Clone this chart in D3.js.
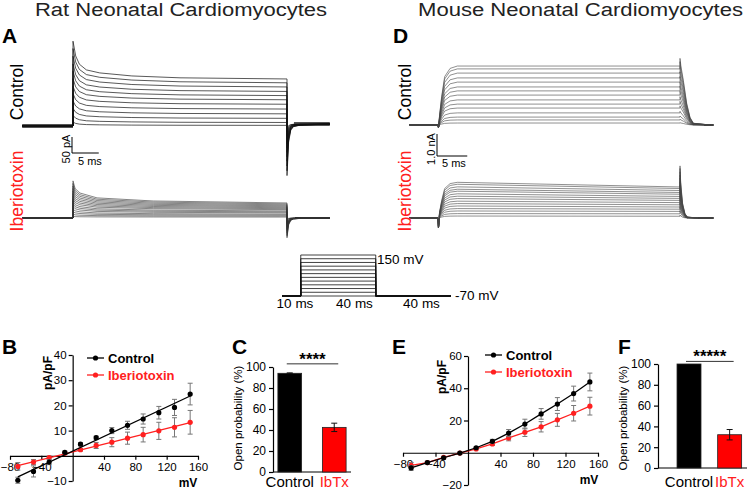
<!DOCTYPE html>
<html>
<head>
<meta charset="utf-8">
<script src="https://d3js.org/d3.v7.min.js"></script>
<style>
body { margin: 0; background: #fff; }
</style>
</head>
<body>
<script>
var font = "'Liberation Sans', Arial, Helvetica, sans-serif";
var red = "#ff2020";

// ---------- data ----------
var stepMV = [-70, -50, -30, -10, 10, 30, 50, 70, 90, 110, 130, 150];

// B: rat I-V (pA/pF), mean and sem
var ratCtrlIV  = [-9.7, -6.2, -2.5, 1.4, 4.6, 7.2, 10.0, 12.1, 14.6, 17.1, 19.2, 24.5];
var ratCtrlSem = [1.2, 2.2, 1.0, 0.5, 0.6, 0.6, 1.2, 1.6, 2.0, 2.5, 3.2, 4.3];
var ratIbtxIV  = [-4.2, -2.5, -0.7, 1.0, 2.4, 4.1, 5.4, 7.0, 8.4, 9.9, 11.3, 13.3];
var ratIbtxSem = [1.5, 1.0, 0.6, 0.4, 0.5, 1.2, 1.8, 2.4, 2.9, 3.4, 3.8, 4.7];

// E: mouse I-V (pA/pF)
var mouseCtrlIV  = [-9.4, -6.1, -3.1, -0.2, 3.1, 7.1, 12.2, 17.8, 24.1, 30.2, 36.7, 43.9];
var mouseCtrlSem = [1.5, 0.8, 0.8, 0.5, 0.5, 1.2, 2.2, 3.0, 3.3, 4.0, 4.6, 5.5];
var mouseIbtxIV  = [-7.8, -6.1, -2.9, -0.2, 2.4, 5.5, 9.2, 12.7, 16.1, 20.4, 24.5, 28.9];
var mouseIbtxSem = [1.8, 0.8, 0.6, 0.5, 0.5, 1.0, 1.8, 2.6, 3.2, 4.0, 4.8, 5.5];

var ivXTicks = [-80, -40, 40, 80, 120, 160];
var ratYTicks = [-10, 10, 20, 30, 40];
var mouseYTicks = [-20, 20, 40, 60];

// C, F: open probability (%)
var barCats = ["Control", "IbTx"];
var ratOpenProb = [94, 42.5];
var ratOpenSem = [0.4, 4];
var mouseOpenProb = [100, 32];
var mouseOpenSem = [0, 5];
var probTicks = [0, 20, 40, 60, 80, 100];

// voltage protocol
var holdMV = -70;
var protoDur = [10, 40, 40]; // ms

// A: rat currents (pA), one value per sweep
var ratCtrlPeak   = [265, 242, 218, 194, 171, 148, 124, 101, 78, 55, 33, 12];
var ratCtrlSteady = [147, 135, 122, 108, 95, 82, 68, 53, 38, 24, 11, 2];
var ratCtrlTail   = [-155, -140, -125, -110, -96, -82, -68, -55, -42, -30, -18, -8];
var ratCtrlPost   = 6;
var ratIbtxPeak   = [116, 108, 100, 92, 84, 76, 68, 60, 52, 44, 36, 28, 20, 12, 5];
var ratIbtxSteady = [47, 44, 41, 38, 35, 32, 29, 26, 22, 19, 16, 12, 9, 6, 3];
var ratIbtxTail   = [-62, -57, -52, -47, -42, -38, -34, -30, -26, -22, -18, -14, -10, -6, -3];
var ratIbtxPost   = 0;
// decay of the onset transient (ms, fraction left)
var ratCtrlDecayT = [0, 0.5, 1.2, 2.5, 5, 11, 20, 40];
var ratCtrlDecayF = [1, 0.61, 0.39, 0.24, 0.16, 0.08, 0.03, 0];
var ratIbtxDecayT = [0, 0.4, 1.3, 4.5, 15, 40];
var ratIbtxDecayF = [1, 0.65, 0.45, 0.23, 0.09, 0];
var ratTailT = [0, 0.3, 0.7, 1.2, 2.5, 8];
var ratTailF = [1, 0.35, 0.12, 0.05, 0.02, 0];

// D: mouse currents (nA), one value per sweep
var mouseCtrlAmp   = [2.68, 2.55, 2.36, 2.14, 1.95, 1.73, 1.55, 1.36, 1.14, 0.95, 0.77, 0.55, 0.36, 0.23, 0.09];
var mouseIbtxStart = [1.64, 1.55, 1.43, 1.32, 1.23, 1.11, 1.0, 0.89, 0.77, 0.66, 0.55, 0.43, 0.32, 0.2, 0.09];
var mouseIbtxEnd   = [1.41, 1.34, 1.25, 1.16, 1.08, 0.98, 0.89, 0.8, 0.7, 0.6, 0.5, 0.4, 0.3, 0.19, 0.08];
var mouseCtrlDip = -0.12, mouseIbtxDip = -0.45;
var actT = [0, 0.25, 0.6, 1.1, 2, 3.2, 40];
var actF = [0, 0.15, 0.48, 0.82, 0.96, 1, 1];
var ctrlDeactT = [0, 0.15, 0.55, 1.1, 1.65, 2.2, 5];
var ctrlDeactF = [1.13, 1.0, 0.76, 0.37, 0.13, 0.03, 0];
var ibtxDeactT = [0, 0.1, 0.4, 0.8, 1.2, 3];
var ibtxDeactF = [1.68, 1.2, 0.5, 0.15, 0.03, 0];

var stepDur = 40;

// ---------- drawing ----------
var svg = d3.select("body").append("svg")
  .attr("width", 749).attr("height", 491)
  .style("font-family", font);

svg.append("rect").attr("width", 749).attr("height", 491).attr("fill", "#fff");

function txt(x, y, s, size, o) {
  o = o || {};
  var t = svg.append("text").attr("x", x).attr("y", y).text(s)
    .attr("font-size", size)
    .attr("font-weight", o.weight || "normal")
    .attr("fill", o.fill || "#000")
    .attr("text-anchor", o.anchor || "start");
  if (o.len) t.attr("textLength", o.len).attr("lengthAdjust", "spacingAndGlyphs");
  return t;
}
function vtxt(x, y, s, size, o) {
  o = o || {};
  return svg.append("text").attr("transform", "translate(" + x + "," + y + ") rotate(-90)")
    .text(s).attr("font-size", size).attr("text-anchor", "middle")
    .attr("font-weight", o.weight || "normal").attr("fill", o.fill || "#000");
}

// titles and panel letters
txt(35, 16, "Rat Neonatal Cardiomyocytes", 18, {fill: "#222", len: 292});
txt(418, 16, "Mouse Neonatal Cardiomyocytes", 18, {fill: "#222", len: 325});
[["A", 2, 43], ["D", 393, 43], ["B", 2, 354], ["C", 232, 354], ["E", 392, 354], ["F", 618, 354]]
  .forEach(function(l) { txt(l[1], l[2], l[0], 21, {weight: "bold"}); });

// ---- traces ----
function drawSweeps(list, tx, ty, color, w) {
  var line = d3.line().x(function(p) { return tx(p[0]); }).y(function(p) { return ty(p[1]); });
  svg.append("g").selectAll("path").data(list).enter().append("path")
    .attr("d", line).attr("fill", "none").attr("stroke", color)
    .attr("stroke-width", w).attr("stroke-linejoin", "round");
}
function band(tx, ty, t0, t1, v, color, w) {
  svg.append("line").attr("x1", tx(t0)).attr("x2", tx(t1)).attr("y1", ty(v)).attr("y2", ty(v))
    .attr("stroke", color).attr("stroke-width", w);
}

function ratSweeps(peak, steady, tail, post, dT, dF) {
  return peak.map(function(p, i) {
    var pts = [[-9.5, 0], [0, 0]];
    dT.forEach(function(t, k) { pts.push([t, steady[i] + (peak[i] - steady[i]) * dF[k]]); });
    ratTailT.forEach(function(t, k) { pts.push([stepDur + t, post + (tail[i] - post) * ratTailF[k]]); });
    pts.push([48, post]);
    return pts;
  });
}

var ratX = d3.scaleLinear().domain([0, stepDur]).range([73, 287]);
var ratCtrlY = d3.scaleLinear().domain([0, 50]).range([126, 110]);
var ratIbtxY = d3.scaleLinear().domain([0, 50]).range([218, 202]);

band(ratX, ratCtrlY, -9.5, 0, 0, "#555", 4);
band(ratX, ratCtrlY, 41.3, 48, ratCtrlPost, "#555", 4);
drawSweeps(ratSweeps(ratCtrlPeak, ratCtrlSteady, ratCtrlTail, ratCtrlPost, ratCtrlDecayT, ratCtrlDecayF),
  ratX, ratCtrlY, "#111", 0.7);
band(ratX, ratIbtxY, -9.5, 0, 0, "#111", 2.2);
band(ratX, ratIbtxY, 41.5, 48, ratIbtxPost, "#111", 2.2);
drawSweeps(ratSweeps(ratIbtxPeak, ratIbtxSteady, ratIbtxTail, ratIbtxPost, ratIbtxDecayT, ratIbtxDecayF),
  ratX, ratIbtxY, "#333", 0.6);

// rat scale bar
var rsb = {x: 72, y: 153};
svg.append("path").attr("fill", "none").attr("stroke", "#000").attr("stroke-width", 1)
  .attr("d", "M" + rsb.x + "," + (rsb.y - (ratCtrlY(0) - ratCtrlY(50))) + "V" + rsb.y +
    "H" + (rsb.x + ratX(5) - ratX(0)));
vtxt(70, 149, "50 pA", 11);
txt(78, 165, "5 ms", 11);

function mouseSweeps(s0, s1, dip, dT, dF) {
  return s0.map(function(a, i) {
    var pts = [[-4.7, 0], [0, 0], [0.08, dip]];
    actT.forEach(function(t, k) {
      if (k > 0) pts.push([t, (s0[i] + (s1[i] - s0[i]) * t / stepDur) * actF[k]]);
    });
    dT.forEach(function(t, k) { pts.push([stepDur + t, s1[i] * dF[k]]); });
    pts.push([45.5, 0]);
    return pts;
  });
}

var mouseX = d3.scaleLinear().domain([0, stepDur]).range([438, 680]);
var mouseCtrlY = d3.scaleLinear().domain([0, 1]).range([125, 103]);
var mouseIbtxY = d3.scaleLinear().domain([0, 1]).range([218, 196]);

band(mouseX, mouseCtrlY, -4.7, 0, 0, "#111", 2);
band(mouseX, mouseCtrlY, 44, 45.5, 0, "#111", 2);
drawSweeps(mouseSweeps(mouseCtrlAmp, mouseCtrlAmp, mouseCtrlDip, ctrlDeactT, ctrlDeactF),
  mouseX, mouseCtrlY, "#444", 0.6);
band(mouseX, mouseIbtxY, -4.7, 0, 0, "#111", 2);
band(mouseX, mouseIbtxY, 43, 45.5, 0, "#111", 2);
drawSweeps(mouseSweeps(mouseIbtxStart, mouseIbtxEnd, mouseIbtxDip, ibtxDeactT, ibtxDeactF),
  mouseX, mouseIbtxY, "#444", 0.6);

var msb = {x: 437, y: 156};
svg.append("path").attr("fill", "none").attr("stroke", "#000").attr("stroke-width", 1)
  .attr("d", "M" + msb.x + "," + (msb.y - (mouseCtrlY(0) - mouseCtrlY(1))) + "V" + msb.y +
    "H" + (msb.x + mouseX(5) - mouseX(0)));
vtxt(435, 149, "1.0 nA", 11);
txt(442, 167, "5 ms", 11);

// condition labels
vtxt(23, 92, "Control", 17.5);
vtxt(23, 191, "Iberiotoxin", 17.5, {fill: red});
vtxt(411, 92, "Control", 17.5);
vtxt(411, 191, "Iberiotoxin", 17.5, {fill: red});

// ---- voltage protocol ----
var tOn = protoDur[0], tOff = protoDur[0] + protoDur[1], tEnd = d3.sum(protoDur);
var px = d3.scaleLinear().domain([0, tEnd]).range([282, 450.75]);
var pv = d3.scaleLinear().domain([holdMV, d3.max(stepMV)]).range([296, 255]);
var pline = d3.line().x(function(p) { return px(p[0]); }).y(function(p) { return pv(p[1]); });
svg.append("g").selectAll("path").data(stepMV).enter().append("path")
  .attr("d", function(v) {
    return pline([[0, holdMV], [tOn, holdMV], [tOn, v], [tOff, v], [tOff, holdMV], [tEnd, holdMV]]);
  })
  .attr("fill", "none").attr("stroke", "#111").attr("stroke-width", 0.8);
txt(377, 264, d3.max(stepMV) + " mV", 13.5);
txt(455, 300, holdMV + " mV", 13.5);
txt(295, 308, protoDur[0] + " ms", 13.5, {anchor: "middle"});
txt(354.5, 308, protoDur[1] + " ms", 13.5, {anchor: "middle"});
txt(421.5, 308, protoDur[2] + " ms", 13.5, {anchor: "middle"});

// ---- I-V plots ----
function fitLine(xs, ys) {
  var mx = d3.mean(xs), my = d3.mean(ys);
  var sxy = d3.sum(xs, function(v, i) { return (v - mx) * (ys[i] - my); });
  var sxx = d3.sum(xs, function(v) { return (v - mx) * (v - mx); });
  var b = sxy / sxx;
  return function(v) { return my + b * (v - mx); };
}

function drawIV(o) {
  var x = d3.scaleLinear().domain([-80, 160]).range(o.xr);
  var y = d3.scaleLinear().domain(o.yd).range(o.yr);
  var g = svg.append("g");
  var xa = g.append("g").attr("transform", "translate(0," + y(0) + ")")
    .call(d3.axisBottom(x).tickValues(ivXTicks).tickSize(4).tickPadding(3).tickSizeOuter(0));
  var ya = g.append("g").attr("transform", "translate(" + x(0) + ",0)")
    .call(d3.axisLeft(y).tickValues(o.yticks).tickSize(4).tickPadding(2).tickSizeOuter(0));
  [xa, ya].forEach(function(a) {
    a.attr("font-family", font).attr("font-size", 11.5);
    a.selectAll("path, line").attr("stroke", "#000").attr("stroke-width", 1.2);
    a.selectAll("text").attr("fill", "#000");
  });

  o.series.forEach(function(s) {
    var sg = g.append("g");
    // error bars
    var eb = sg.selectAll("g.eb").data(stepMV).enter().append("g")
      .attr("stroke", "#777").attr("stroke-width", 1);
    eb.append("line")
      .attr("x1", function(d) { return x(d); }).attr("x2", function(d) { return x(d); })
      .attr("y1", function(d, i) { return y(s.vals[i] - s.sem[i]); })
      .attr("y2", function(d, i) { return y(s.vals[i] + s.sem[i]); });
    [-1, 1].forEach(function(sign) {
      eb.append("line")
        .attr("x1", function(d) { return x(d) - 2.5; }).attr("x2", function(d) { return x(d) + 2.5; })
        .attr("y1", function(d, i) { return y(s.vals[i] + sign * s.sem[i]); })
        .attr("y2", function(d, i) { return y(s.vals[i] + sign * s.sem[i]); });
    });
    // line
    if (o.fit) {
      var f = fitLine(stepMV, s.vals);
      var x0 = d3.min(stepMV), x1 = d3.max(stepMV);
      sg.append("line").attr("x1", x(x0)).attr("y1", y(f(x0))).attr("x2", x(x1)).attr("y2", y(f(x1)))
        .attr("stroke", s.color).attr("stroke-width", 1.3);
    } else {
      sg.append("path").datum(s.vals)
        .attr("d", d3.line().x(function(d, i) { return x(stepMV[i]); }).y(function(d) { return y(d); }))
        .attr("fill", "none").attr("stroke", s.color).attr("stroke-width", 1.3);
    }
    sg.selectAll("circle").data(s.vals).enter().append("circle")
      .attr("cx", function(d, i) { return x(stepMV[i]); }).attr("cy", function(d) { return y(d); })
      .attr("r", 2.6).attr("fill", s.color);
  });

  // legend
  o.series.slice().reverse().forEach(function(s, i) {
    var ly = o.leg[1] + i * 17;
    g.append("line").attr("x1", o.leg[0]).attr("x2", o.leg[0] + 17).attr("y1", ly).attr("y2", ly)
      .attr("stroke", s.color).attr("stroke-width", 1.3);
    g.append("circle").attr("cx", o.leg[0] + 8.5).attr("cy", ly).attr("r", 2.6).attr("fill", s.color);
    txt(o.leg[0] + 21, ly + 4.5, s.name, 13, {weight: "bold", fill: s.color});
  });

  vtxt(o.ylab[0], o.ylab[1], "pA/pF", 12, {weight: "bold"});
  txt(o.xlab[0], o.xlab[1], "mV", 12, {weight: "bold", anchor: "middle"});
}

drawIV({
  xr: [10, 198], yd: [-10, 40], yr: [481, 355], yticks: ratYTicks, fit: true,
  leg: [87, 358], ylab: [52, 373], xlab: [188, 487],
  series: [
    {name: "Iberiotoxin", vals: ratIbtxIV, sem: ratIbtxSem, color: red},
    {name: "Control", vals: ratCtrlIV, sem: ratCtrlSem, color: "#000"}
  ]
});
drawIV({
  xr: [403, 598], yd: [-20, 60], yr: [485, 356], yticks: mouseYTicks, fit: false,
  leg: [485, 355], ylab: [446, 377], xlab: [589, 484],
  series: [
    {name: "Iberiotoxin", vals: mouseIbtxIV, sem: mouseIbtxSem, color: red},
    {name: "Control", vals: mouseCtrlIV, sem: mouseCtrlSem, color: "#000"}
  ]
});

// ---- open probability bars ----
function drawBars(o) {
  var x = d3.scaleBand().domain(barCats).range(o.xr)
    .paddingInner(o.pi).paddingOuter(o.po).align(o.align);
  var y = d3.scaleLinear().domain([0, 100]).range(o.yr);
  var g = svg.append("g");
  var ya = g.append("g").attr("transform", "translate(" + o.xr[0] + ",0)")
    .call(d3.axisLeft(y).tickValues(probTicks).tickSize(4).tickPadding(3).tickSizeOuter(0));
  ya.attr("font-family", font).attr("font-size", 12);
  ya.selectAll("path, line").attr("stroke", "#000").attr("stroke-width", 1.2);
  ya.selectAll("text").attr("fill", "#000");
  g.append("line").attr("x1", o.xr[0]).attr("x2", o.xr[1]).attr("y1", y(0)).attr("y2", y(0))
    .attr("stroke", "#000").attr("stroke-width", 1.2);

  g.selectAll("rect.bar").data(o.vals).enter().append("rect")
    .attr("x", function(d, i) { return x(barCats[i]); })
    .attr("width", x.bandwidth())
    .attr("y", function(d) { return y(d); })
    .attr("height", function(d) { return y(0) - y(d); })
    .attr("fill", function(d, i) { return i ? "#ff0000" : "#000"; })
    .attr("stroke", "#222").attr("stroke-width", 0.8);

  o.vals.forEach(function(v, i) {
    var cx = x(barCats[i]) + x.bandwidth() / 2, e = o.sem[i];
    if (e > 0) {
      g.append("path").attr("fill", "none").attr("stroke", "#111").attr("stroke-width", 1)
        .attr("d", "M" + cx + "," + y(v - e) + "V" + y(v + e) +
          "M" + (cx - 3) + "," + y(v + e) + "H" + (cx + 3) +
          "M" + (cx - 3) + "," + y(v - e) + "H" + (cx + 3));
    }
    txt(cx, 487, barCats[i], 15, {anchor: "middle", fill: i ? red : "#000"});
  });

  var c0 = x(barCats[0]) + x.bandwidth() / 2 - 3, c1 = x(barCats[1]) + x.bandwidth() / 2 + 4;
  var sy = y(o.sigAt);
  g.append("line").attr("x1", c0).attr("x2", c1).attr("y1", sy).attr("y2", sy)
    .attr("stroke", "#333").attr("stroke-width", 1);
  txt((c0 + c1) / 2, sy + 1, o.stars, 17, {anchor: "middle", weight: "bold"});

  vtxt(o.ylab[0], o.ylab[1], "Open probability (%)", 11.5);
}

drawBars({xr: [273, 351], yr: [472, 367], pi: 0.467, po: 0.11, align: 0.5,
  vals: ratOpenProb, sem: ratOpenSem, sigAt: 103, stars: "****", ylab: [242, 418]});
drawBars({xr: [658, 747], yr: [468, 364], pi: 0.41, po: 0.3, align: 0.78,
  vals: mouseOpenProb, sem: mouseOpenSem, sigAt: 102.5, stars: "*****", ylab: [627, 418]});
</script>
</body>
</html>
